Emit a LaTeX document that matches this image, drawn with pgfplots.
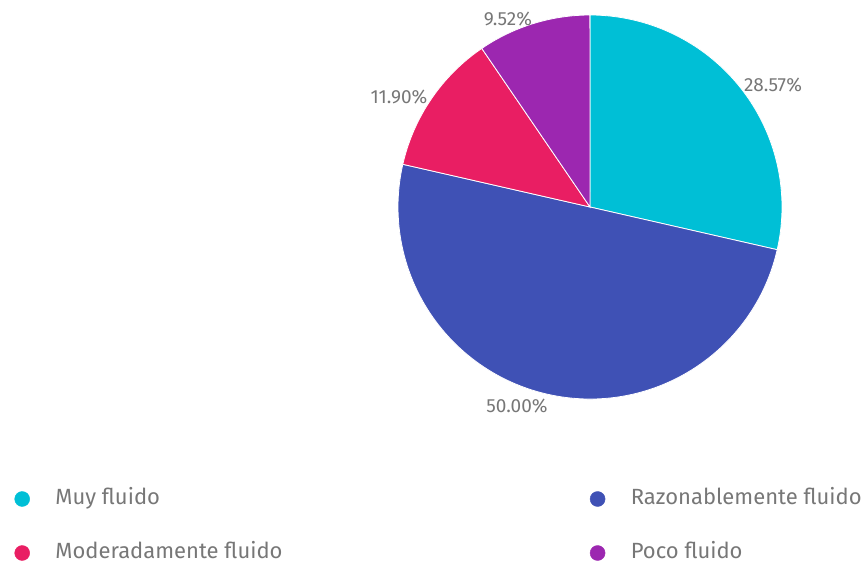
\documentclass[border=0pt]{standalone}
\usepackage{fontspec}
\setmainfont{Fira Sans}
\usepackage{pgfplots}
\usepackage{pgfplotstable}
\pgfplotsset{compat=1.18}
\definecolor{cMuy}{HTML}{00BFD6}
\definecolor{cRaz}{HTML}{3F51B5}
\definecolor{cMod}{HTML}{E91E63}
\definecolor{cPoc}{HTML}{9C27B0}
\definecolor{txt}{HTML}{777777}

\pgfplotstableread{
idx value
0 28.57
1 50.00
2 11.90
3 9.52
}\piedata
\pgfplotstablegetelem{0}{value}\of\piedata\let\vA\pgfplotsretval
\pgfplotstablegetelem{1}{value}\of\piedata\let\vB\pgfplotsretval
\pgfplotstablegetelem{2}{value}\of\piedata\let\vC\pgfplotsretval
\pgfplotstablegetelem{3}{value}\of\piedata\let\vD\pgfplotsretval
\pgfmathsetmacro\aA{90}
\pgfmathsetmacro\aB{\aA-3.6*\vA}
\pgfmathsetmacro\aC{\aB-3.6*\vB}
\pgfmathsetmacro\aD{\aC-3.6*\vC}
\pgfmathsetmacro\aE{\aD-3.6*\vD}

\begin{document}%
\begin{tikzpicture}
\begin{axis}[name=ax,
  scale only axis, width=864pt, height=563pt,
  xmin=0, xmax=864, ymin=0, ymax=563,
  hide axis, clip=false,
  legend columns=2,
  legend image code/.code={\fill[#1] (0pt,0pt) circle (7.5pt);},
  legend style={draw=none, fill=none, inner sep=0pt, outer sep=0pt,
    at={(axis cs:14.5,74)}, anchor=north west,
    row sep=34pt, column sep=0pt,
    /tikz/every odd column/.append style={column sep=25.5pt},
    nodes={inner sep=0pt, anchor=west, text=txt, text height=15pt, text depth=5pt,
      font=\fontsize{22}{25}\selectfont}},
]
\fill[cMuy, draw=white, line width=0.8pt] (axis cs:590,356) -- ++(\aA:192pt) arc[start angle=\aA, end angle=\aB, radius=192pt] -- cycle;
\fill[cRaz, draw=white, line width=0.8pt] (axis cs:590,356) -- ++(\aB:192pt) arc[start angle=\aB, end angle=\aC, radius=192pt] -- cycle;
\fill[cMod, draw=white, line width=0.8pt] (axis cs:590,356) -- ++(\aC:192pt) arc[start angle=\aC, end angle=\aD, radius=192pt] -- cycle;
\fill[cPoc, draw=white, line width=0.8pt] (axis cs:590,356) -- ++(\aD:192pt) arc[start angle=\aD, end angle=\aE, radius=192pt] -- cycle;
\node[text=txt, font=\fontsize{19}{22}\selectfont] at (axis cs:773,478) {28.57\%};
\node[text=txt, font=\fontsize{19}{22}\selectfont] at (axis cs:508,544) {9.52\%};
\node[text=txt, font=\fontsize{19}{22}\selectfont] at (axis cs:399,466) {11.90\%};
\node[text=txt, font=\fontsize{19}{22}\selectfont] at (axis cs:517,157) {50.00\%};
\addlegendimage{cMuy}
\addlegendentry{\makebox[534.5pt][l]{Muy fluido}}
\addlegendimage{cRaz}
\addlegendentry{Razonablemente fluido}
\addlegendimage{cMod}
\addlegendentry{\makebox[534.5pt][l]{Moderadamente fluido}}
\addlegendimage{cPoc}
\addlegendentry{Poco fluido}
\end{axis}
\pgfresetboundingbox
\path[use as bounding box] (ax.south west) rectangle (ax.north east);
\end{tikzpicture}%
\end{document}
